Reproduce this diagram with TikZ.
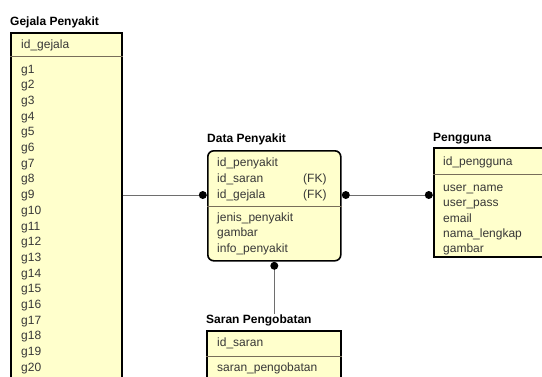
\documentclass[tikz,border=0pt]{standalone}
\usepackage{fontspec}
\setmainfont{Liberation Sans}
\usepackage{tikz}
\usepackage{xcolor}
\definecolor{entfill}{RGB}{255,255,204}
\definecolor{sepgray}{RGB}{120,110,90}
\definecolor{linegray}{RGB}{110,110,110}
\definecolor{txtgray}{RGB}{55,55,55}
\tikzset{entity/.style={draw=black,line width=1.6pt,fill=entfill,anchor=north west,inner sep=0pt},
 title/.style={anchor=west,inner sep=0pt,font=\fontsize{12}{14}\selectfont\bfseries},
 field/.style={anchor=west,inner sep=0pt,text height=8.6pt,text depth=2.5pt,
   text=txtgray,font=\fontsize{12}{14}\selectfont},
 sep/.style={draw=sepgray,line width=0.8pt},
 conn/.style={draw=linegray,line width=1pt},
 dot/.style={circle,fill=black,inner sep=0pt,minimum size=8pt},
 }

\begin{document}
\begin{tikzpicture}[x=1pt,y=-1pt]
        \useasboundingbox (0,0) rectangle (542,376);
        \clip (0,0) rectangle (542,376);
        \fill[white] (0,0) rectangle (542,376);

        % Gejala Penyakit
        \node[title] (gtitle) at (10,22) {Gejala Penyakit};
        \node[entity,minimum width=111pt,minimum height=380pt] (gejala) at (10,32) {};
        \draw[sep] (gejala.west |- 0,56) -- (gejala.east |- 0,56);
        \node[field] (gid) at (21,45) {id\_gejala};
        \foreach \i in {1,...,20}
            \node[field] (g\i) at (21,{70+15.7*(\i-1)}) {g\i};

        % Data Penyakit
        \node[title] (dtitle) at (207,139) {Data Penyakit};
        \node[entity,rounded corners=6pt,minimum width=133pt,minimum height=110pt] (data) at (207,150) {};
        \draw[sep] (data.west |- 0,206) -- (data.east |- 0,206);
        \node[field] (did) at (217,163) {id\_penyakit};
        \node[field] (dsaran) at (217,179) {id\_saran};
        \node[field] (dgejala) at (217,195) {id\_gejala};
        \node[field] (fk1) at (303,179) {(FK)};
        \node[field] (fk2) at (303,195) {(FK)};
        \node[field] (djenis) at (217,218) {jenis\_penyakit};
        \node[field] (dgambar) at (217,233.5) {gambar};
        \node[field] (dinfo) at (217,249) {info\_penyakit};

        % Pengguna
        \node[title] (ptitle) at (433,139) {Pengguna};
        \node[entity,minimum width=130pt,minimum height=109pt] (pengguna) at (433,147) {};
        \draw[sep] (pengguna.west |- 0,174) -- (pengguna.east |- 0,174);
        \node[field] (pid) at (443,162) {id\_pengguna};
        \node[field] (puser) at (443,188) {user\_name};
        \node[field] (ppass) at (443,203.5) {user\_pass};
        \node[field] (pemail) at (443,219) {email};
        \node[field] (pnama) at (443,234) {nama\_lengkap};
        \node[field] (pgambar) at (443,249.5) {gambar};

        % Saran Pengobatan
        \node[title] (stitle) at (206,320) {Saran Pengobatan};
        \node[entity,minimum width=134pt,minimum height=80pt] (saran) at (206,330) {};
        \draw[sep] (saran.west |- 0,356) -- (saran.east |- 0,356);
        \node[field] (sid) at (217,343) {id\_saran};
        \node[field] (spengobatan) at (217,368) {saran\_pengobatan};

        % relasi
        \draw[conn] (gejala.east |- dgejala) -- (data.west |- dgejala);
        \draw[conn] (data.east |- dgejala) -- (pengguna.west |- dgejala);
        \draw[conn] (data.south) -- (data.south |- stitle.north);
        \node[dot,anchor=east] (dotg) at (data.west |- dgejala) {};
        \node[dot,anchor=west] (dotp) at (data.east |- dgejala) {};
        \node[dot,anchor=east] (dotu) at (pengguna.west |- dgejala) {};
        \node[dot,anchor=north] (dots) at (data.south) {};
    \end{tikzpicture}
\end{document}
